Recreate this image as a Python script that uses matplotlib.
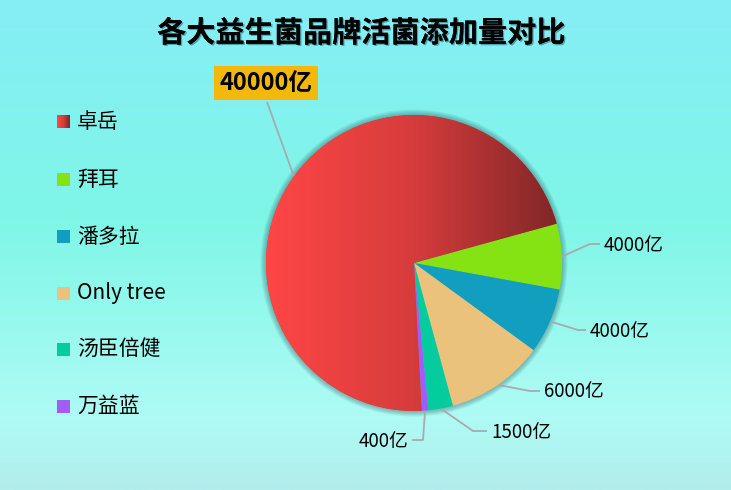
import numpy as np
import matplotlib.pyplot as plt
from matplotlib.patches import Circle, Rectangle
from matplotlib.colors import LinearSegmentedColormap
import matplotlib.patheffects as pe

plt.rcParams['font.family'] = ['Noto Sans CJK SC', 'DejaVu Sans']

# data
brands = ['卓岳', '拜耳', '潘多拉', 'Only tree', '汤臣倍健', '万益蓝']
values = [40000, 4000, 4000, 6000, 1500, 400]
value_labels = ['40000亿', '4000亿', '4000亿', '6000亿', '1500亿', '400亿']
colors = ['#E8403F', '#85E314', '#119EBF', '#EBC27B', '#05CC9E', '#A25CF7']

W, H = 731, 490
cx, cy, R = 414, 263, 148

def Y(y):
    # pixel row (from top) -> axis y (from bottom)
    return H - y

fig = plt.figure(figsize=(W / 100, H / 100), dpi=100)

# background gradient
bg = fig.add_axes([0, 0, 1, 1])
bg_cmap = LinearSegmentedColormap.from_list('bg', [
    (0.0, '#86EEF6'), (0.45, '#7FF6E7'), (0.85, '#AEFBF5'), (1.0, '#B2EDEC')])
bg.imshow(np.linspace(0, 1, 256).reshape(-1, 1), aspect='auto', cmap=bg_cmap,
          extent=(0, 1, 1, 0))
bg.axis('off')

ax = fig.add_axes([0, 0, 1, 1])
ax.patch.set_alpha(0)

# soft shadow round the pie
for i in range(7, 0, -1):
    ax.add_patch(Circle((cx, Y(cy)), R + i * 0.8, color='#1b4a50', alpha=0.06, lw=0, zorder=1))

wedges, _ = ax.pie(values, colors=colors, startangle=-87, counterclock=False,
                   radius=R, center=(cx, Y(cy)), frame=True,
                   wedgeprops=dict(linewidth=0, zorder=2))
for w in wedges:
    w.set_zorder(2)

# red gradient on first slice
red_cmap = LinearSegmentedColormap.from_list('red', ['#FF4646', '#D63C3C', '#7E2626'])
grad = ax.imshow(np.linspace(0, 1, 256).reshape(1, -1), cmap=red_cmap, aspect='auto',
                 extent=(cx - R, cx + R, Y(cy + R), Y(cy - R)), zorder=3)
grad.set_clip_path(wedges[0])

# label leader lines
label_elbow = [(267, 102), (590, 244), (578, 330), (530, 391), (473, 431), (423, 440)]
label_end = [None, (600, 244), (586, 330), (540, 391), (487, 431), (412, 440)]
line_col = '#A8AAB0'
for i, w in enumerate(wedges):
    mid = np.deg2rad((w.theta1 + w.theta2) / 2)
    ex, ey = cx + R * np.cos(mid), Y(cy) + R * np.sin(mid)
    xs = [ex, label_elbow[i][0]]
    ys = [ey, Y(label_elbow[i][1])]
    if label_end[i] is not None:
        xs.append(label_end[i][0])
        ys.append(Y(label_end[i][1]))
    ax.plot(xs, ys, color=line_col, lw=1.3, zorder=1.5, solid_capstyle='butt')
    if i == 0:
        continue
    x_end, y_end = label_end[i]
    ha = 'left' if x_end > label_elbow[i][0] else 'right'
    tx = x_end + 4 if ha == 'left' else x_end - 4
    ax.text(tx, Y(y_end + 1), value_labels[i], fontsize=13.5, ha=ha, va='center',
            color='black', zorder=5)

# big label for first slice
ax.text(266, Y(83), value_labels[0], fontsize=17, fontweight='bold', ha='center',
        va='center', color='black', zorder=5,
        bbox=dict(boxstyle='square,pad=0.22', facecolor='#F2B90A', edgecolor='none'))

# legend
leg_y = [122, 180, 237, 293, 349, 406]
for i, name in enumerate(brands):
    y0 = leg_y[i]
    if i == 0:
        ax.imshow(np.linspace(0, 1, 64).reshape(1, -1), cmap=red_cmap, aspect='auto',
                  extent=(57, 70, Y(y0 + 6.5), Y(y0 - 6.5)), zorder=4)
    else:
        ax.add_patch(Rectangle((57, Y(y0 + 6.5)), 13, 13, color=colors[i], lw=0, zorder=4))
    ax.text(77, Y(y0), name, fontsize=15, ha='left', va='center', color='black', zorder=5)

# title
ax.text(361, Y(33), '各大益生菌品牌活菌添加量对比', fontsize=21, fontweight='bold',
        ha='center', va='center', color='black', zorder=5,
        path_effects=[pe.withSimplePatchShadow(offset=(1, -1), shadow_rgbFace='#2a6f80', alpha=0.6),
                      pe.Normal()])

ax.set_xlim(0, W)
ax.set_ylim(0, H)
ax.set_aspect('auto')
ax.axis('off')

fig.savefig('out.png', dpi=100)
